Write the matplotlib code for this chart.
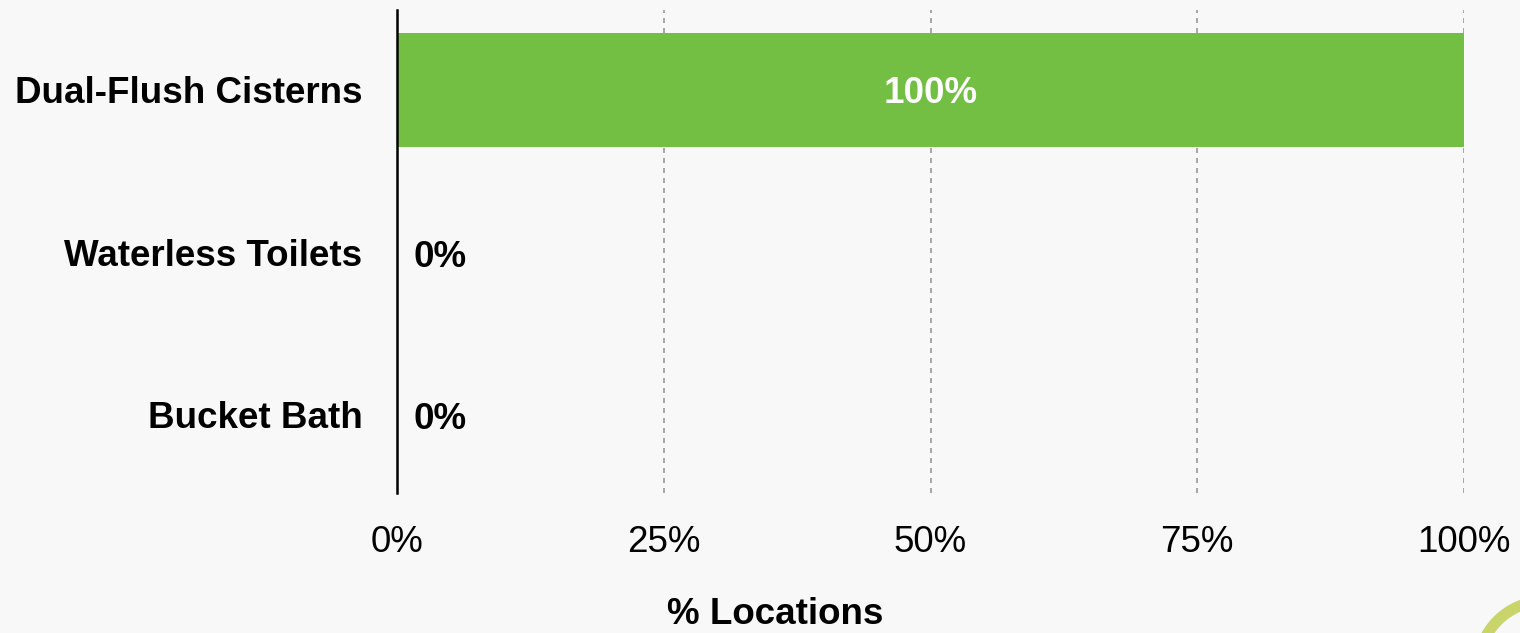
import matplotlib.pyplot as plt
from matplotlib.patches import Circle

categories = ['Dual-Flush Cisterns', 'Waterless Toilets', 'Bucket Bath']
values = [100, 0, 0]
xticks = [0, 25, 50, 75, 100]
xtick_labels = ['0%', '25%', '50%', '75%', '100%']

plt.rcParams['font.family'] = ['Liberation Sans', 'DejaVu Sans']

bg = '#f8f8f8'
fs = 26.5
fig = plt.figure(figsize=(15.2, 6.33), dpi=100, facecolor=bg)
ax = fig.add_axes([0.2612, 0.2212, 0.702, 0.763], facecolor=bg)

y = list(range(len(categories)))
ax.barh(y, values, height=0.7, color='#72bf44', zorder=3)

# value labels: inside the bar when it is long, just right of the axis otherwise
for yi, v in zip(y, values):
    if v > 50:
        ax.text(v / 2, yi + 0.025, f'{v}%', ha='center', va='center', color='white',
                fontsize=fs, fontweight='bold', zorder=4)
    else:
        ax.text(v + 1.5, yi + 0.03, f'{v}%', ha='left', va='center', color='black',
                fontsize=fs, fontweight='bold', zorder=4)

ax.set_xlim(0, 100)
ax.set_ylim(2.48, -0.49)
ax.set_yticks(y)
ax.set_yticklabels(categories, fontsize=fs, fontweight='bold')
ax.set_xticks(xticks)
ax.set_xticklabels(xtick_labels, fontsize=fs)
ax.tick_params(axis='x', length=0, pad=23)
ax.tick_params(axis='y', length=0, pad=25)

# axis title sits a bit left of the plot centre in the original
fig.text(775 / 1520, 1 - 614 / 633, '% Locations', ha='center', va='center',
         fontsize=fs, fontweight='bold')

ax.xaxis.grid(True, linestyle=(0, (3, 3)), color='#999999', linewidth=1.2, zorder=1)
for s in ['top', 'right', 'bottom']:
    ax.spines[s].set_visible(False)
ax.spines['left'].set_color('black')
ax.spines['left'].set_linewidth(1.8)
ax.spines['left'].set_zorder(5)

# corner logo ring
logo = Circle((1545, 633 - 668), 67, transform=None, fill=False,
              edgecolor='#c9d56a', linewidth=8)
fig.patches.append(logo)

fig.savefig('out.png', dpi=100, facecolor=bg)
